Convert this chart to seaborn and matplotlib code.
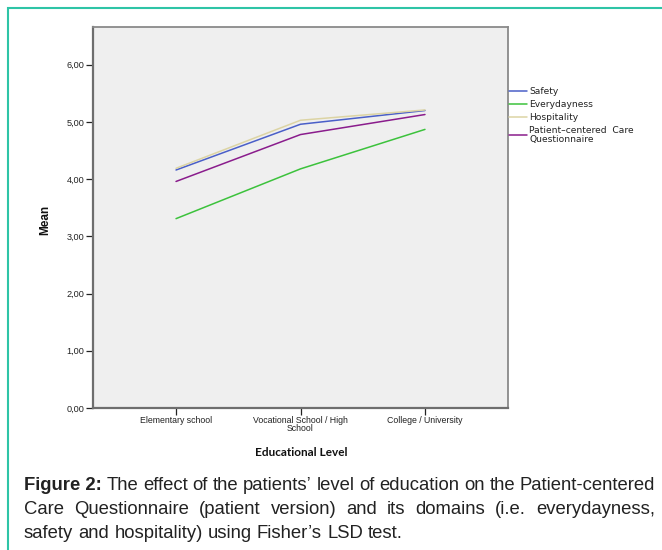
import numpy as np
import pandas as pd
import seaborn as sns
import matplotlib.pyplot as plt
from matplotlib.patches import Rectangle
from matplotlib.lines import Line2D
from matplotlib import font_manager

levels = ["Elementary school", "Vocational School / High\nSchool", "College / University"]
safety = [4.16, 4.96, 5.20]
everydayness = [3.31, 4.18, 4.87]
hospitality = [4.19, 5.03, 5.21]
pccq = [3.96, 4.78, 5.13]

series_names = ["Safety", "Everydayness", "Hospitality", "Patient\u2013centered  Care\nQuestionnaire"]
colors = ["#4a5fc8", "#3cc23c", "#dcd4a4", "#8a1c8c"]
yticks = [0, 1, 2, 3, 4, 5, 6]

caption_lines = [
    "The effect of the patients\u2019 level of education on the Patient-centered",
    "Care Questionnaire (patient version) and its domains (i.e. everydayness,",
    "safety and hospitality) using Fisher\u2019s LSD test.",
]

df = pd.DataFrame({
    "x": list(range(3)) * 4,
    "mean": safety + everydayness + hospitality + pccq,
    "series": sum([[n] * 3 for n in series_names], []),
})

sns.set_theme(style="white")
plt.rcParams["font.family"] = ["Liberation Sans", "DejaVu Sans"]

names = {f.name for f in font_manager.fontManager.ttflist}
cap_family = "Liberation Sans Narrow" if "Liberation Sans Narrow" in names else "Liberation Sans"

fig = plt.figure(figsize=(6.62, 5.5), dpi=100)
W, H = 662, 550
ax = fig.add_axes([93 / W, 1 - 408 / H, 415 / W, 381 / H])
ax.set_facecolor("#efefef")

sns.lineplot(data=df, x="x", y="mean", hue="series", palette=colors,
             hue_order=series_names, linewidth=1.1, legend=False, ax=ax)

ax.set_xlim(-0.667, 2.667)
ax.set_ylim(0, 6.66)
ax.set_xticks(range(3))
ax.set_xticklabels(levels, fontsize=6.3, linespacing=0.85)
ax.set_yticks(yticks)
ax.set_yticklabels(["%d,00" % v for v in yticks], fontsize=6.6)
ax.tick_params(axis="both", direction="out", length=5, width=0.9, color="#222222",
               pad=1, left=True, bottom=True, labelcolor="#222222")
ax.set_xlabel("")
ax.set_ylabel("")
for side in ["left", "bottom"]:
    ax.spines[side].set_color("#6e6e6e")
    ax.spines[side].set_linewidth(1.6)
for side in ["top", "right"]:
    ax.spines[side].set_color("#8a8a8a")
    ax.spines[side].set_linewidth(1.3)

fig.text(45 / W, 1 - 220 / H, "Mean", rotation=90, ha="center", va="center",
         fontsize=8.5, fontweight="bold", color="#111111")
fig.text(301 / W, 1 - 452 / H, "Educational Level", ha="center", va="center",
         fontsize=8.5, fontweight="bold", family=["Lato", "DejaVu Sans"], color="#111111")

handles = [Line2D([], [], color=c, lw=1.1) for c in colors]
leg = fig.legend(handles, series_names, loc="upper left", bbox_to_anchor=(509 / W, 1 - 87 / H),
                 frameon=False, handlelength=2.0, handletextpad=0.2,
                 labelspacing=0.45, borderaxespad=0, borderpad=0,
                 prop={"family": "DejaVu Sans", "size": 6.6})
for t in leg.get_texts():
    t.set_linespacing(0.9)
    t.set_color("#222222")

# teal frame around the figure
fig.add_artist(Rectangle((7.5 / W, -0.05), 1.0, 1 - 8 / H + 0.05, transform=fig.transFigure,
                         fill=False, edgecolor="#2ec4a6", linewidth=1.5))

# justified caption, fixed line breaks as in the source
fig.canvas.draw()
renderer = fig.canvas.get_renderer()
left_px, right_px = 24, 655


def width_of(word, fs, bold=False):
    t = fig.text(0, 0, word, fontsize=fs, family=cap_family,
                 fontweight="bold" if bold else "normal")
    w = t.get_window_extent(renderer).width
    t.remove()
    return w


# pick a size so the first line naturally fills the width
fs = 12.5
natural = width_of("Figure 2: " + caption_lines[0], fs)
fs = min(13.5, fs * (right_px - left_px) / natural)

lines = []
for li, text in enumerate(caption_lines):
    items = [(w, False) for w in text.split()]
    if li == 0:
        items = [("Figure 2:", True)] + items
    lines.append(items)

space = width_of("a b", fs) - width_of("ab", fs)
y0 = 485
for li, line in enumerate(lines):
    y = y0 + li * 24
    widths = [width_of(w, fs, b) for w, b in line]
    gaps = len(line) - 1
    if li < len(lines) - 1:
        gap = (right_px - left_px - sum(widths)) / gaps
    else:
        gap = space
    x = left_px
    for (w, b), ww in zip(line, widths):
        fig.text(x / W, 1 - y / H, w, fontsize=fs, va="center", ha="left", family=cap_family,
                 fontweight="bold" if b else "normal", color="#222222")
        x += ww + gap

fig.savefig("out.png", dpi=100)
